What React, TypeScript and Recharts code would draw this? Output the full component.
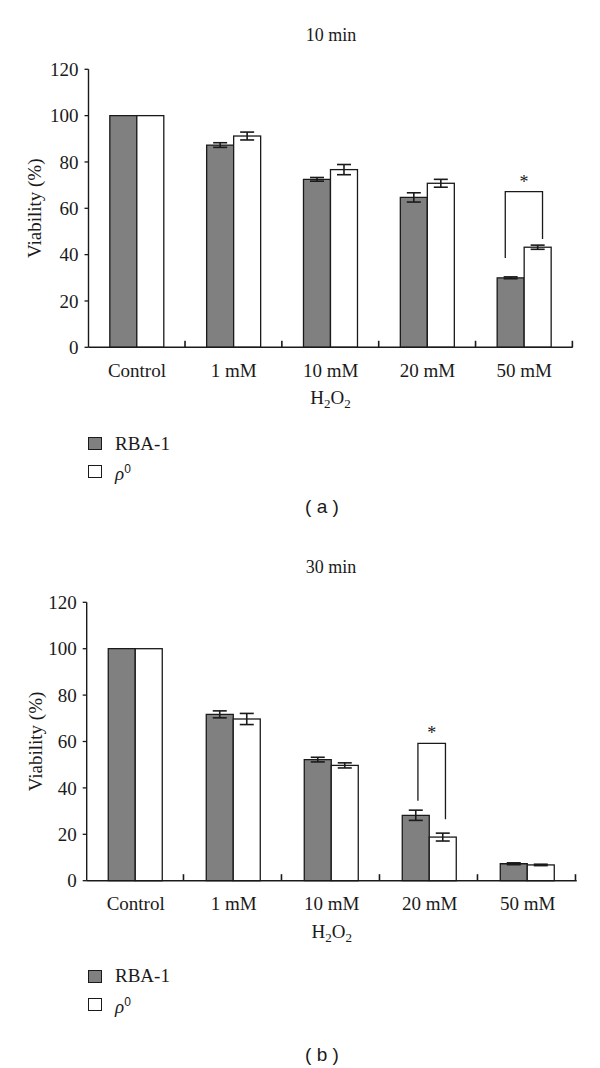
import { BarChart, Bar, XAxis, YAxis, ErrorBar } from "recharts";

const categories = ["Control", "1 mM", "10 mM", "20 mM", "50 mM"];
const yTicks = [0, 20, 40, 60, 80, 100, 120];

// 10 min exposure
const rba10 = [100, 87.3, 72.5, 64.7, 30.0];
const rba10Err = [0, 1.0, 0.8, 2.0, 0.4];
const rho10 = [100, 91.2, 76.7, 70.8, 43.2];
const rho10Err = [0, 1.7, 2.2, 1.7, 0.9];

// 30 min exposure
const rba30 = [100, 71.7, 52.2, 28.2, 7.3];
const rba30Err = [0, 1.5, 1.0, 2.2, 0.4];
const rho30 = [100, 69.7, 49.7, 18.8, 6.8];
const rho30Err = [0, 2.4, 1.1, 1.7, 0.3];

// significance brackets: leg ends and top in %, legs placed inside the two bars
const sig10 = { category: "50 mM", yLeft: 38.5, yRight: 46.7, top: 67.2, leftFrac: 0.3, rightFrac: 0.68 };
const sig30 = { category: "20 mM", yLeft: 34.5, yRight: 26.5, top: 59.2, leftFrac: 0.58, rightFrac: 0.6 };

const SERIF = "'Liberation Serif', 'Times New Roman', serif";
const SANS = "'Liberation Sans', Arial, sans-serif";
const INK = "#1a1a1a";
const GRAY = "#808080";
const FS = 19;
const CAT_GAP = 0.22; // barCategoryGap as a fraction of the band

const build = (rba: number[], rbaErr: number[], rho: number[], rhoErr: number[]) =>
  categories.map((name, i) => ({
    name,
    rba: rba[i],
    rbaErr: rbaErr[i],
    rho: rho[i],
    rhoErr: rhoErr[i],
  }));

const data10 = build(rba10, rba10Err, rho10, rho10Err);
const data30 = build(rba30, rba30Err, rho30, rho30Err);

function YLabel(props: any) {
  const vb = props.viewBox || { x: 0, y: 69, height: 278 };
  const cx = 35;
  const cy = vb.y + vb.height / 2;
  return (
    <text
      x={cx}
      y={cy}
      transform={`rotate(-90, ${cx}, ${cy})`}
      textAnchor="middle"
      dominantBaseline="central"
      fill={INK}
      fontFamily={SERIF}
      fontSize={FS}
    >
      Viability (%)
    </text>
  );
}

function H2O2Label(props: any) {
  const vb = props.viewBox || { x: 88, y: 347, width: 485 };
  const cx = vb.x + vb.width / 2;
  const y = vb.y + 57;
  return (
    <text x={cx} y={y} textAnchor="middle" fill={INK} fontFamily={SERIF} fontSize={FS}>
      H
      <tspan dy={4} fontSize={13}>2</tspan>
      <tspan dy={-4}>O</tspan>
      <tspan dy={4} fontSize={13}>2</tspan>
    </text>
  );
}

// white bar, the inward axis tick at the right edge of its band, and the significance bracket
function makeRhoShape(sig: typeof sig10) {
  return (props: any) => {
    const { x, y, width, height, value, payload, fill, stroke, strokeWidth } = props;
    const base = y + height;
    const band = (2 * width) / (1 - 2 * CAT_GAP);
    const tx = x + width + CAT_GAP * band;
    const parts = [
      <rect key="r" x={x} y={y} width={width} height={height} fill={fill} stroke={stroke} strokeWidth={strokeWidth} />,
      <rect key="t" x={tx - 0.8} y={base - 6.5} width={1.6} height={6.5} fill={INK} />,
    ];
    if (payload && payload.name === sig.category && value) {
      const ppu = height / value;
      const xl = x - width + sig.leftFrac * width;
      const xr = x + sig.rightFrac * width;
      const yt = base - sig.top * ppu;
      const yl = base - sig.yLeft * ppu;
      const yr = base - sig.yRight * ppu;
      parts.push(
        <path key="b" d={`M${xl},${yl} V${yt} H${xr} V${yr}`} fill="none" stroke={INK} strokeWidth={1.3} />,
        <text key="s" x={(xl + xr) / 2} y={yt - 4} textAnchor="middle" fill={INK} fontFamily={SERIF} fontSize={18}>
          *
        </text>
      );
    }
    return <g>{parts}</g>;
  };
}

interface PanelProps {
  top: number;
  data: any[];
  left: number;
  right: number;
  bottom: number;
  sig: typeof sig10;
  title: string;
  titleY: number;
  legendY: number;
  letter: string;
  letterY: number;
}

function Panel({ top, data, left, right, bottom, sig, title, titleY, legendY, letter, letterY }: PanelProps) {
  const H = 420;
  const axisH = 60;
  return (
    <div style={{ position: "absolute", left: 0, top, width: 600, height: 530 }}>
      <div
        style={{
          position: "absolute",
          left: 281,
          top: titleY - 9,
          width: 100,
          textAlign: "center",
          fontFamily: SERIF,
          fontSize: 18,
          lineHeight: "18px",
          color: INK,
        }}
      >
        {title}
      </div>
      <BarChart
        width={600}
        height={H}
        data={data}
        barCategoryGap={`${CAT_GAP * 100}%`}
        barGap={0}
        margin={{ top: 69.3, right: 600 - right, left: 0, bottom: H - bottom - axisH }}
        style={{ position: "absolute", left: 0, top: 0, overflow: "visible" }}
      >
        <XAxis
          dataKey="name"
          height={axisH}
          tickLine={false}
          tickSize={6}
          tickMargin={10}
          axisLine={{ stroke: INK, strokeWidth: 1.4 }}
          tick={{ fill: INK, fontSize: FS, fontFamily: SERIF }}
          label={{ content: (p: any) => <H2O2Label {...p} /> }}
        />
        <YAxis
          width={left}
          domain={[0, 120]}
          ticks={yTicks}
          tickSize={4}
          tickMargin={6}
          axisLine={{ stroke: INK, strokeWidth: 1.4 }}
          tickLine={{ stroke: INK, strokeWidth: 1.3 }}
          tick={{ fill: INK, fontSize: FS, fontFamily: SERIF }}
          label={{ content: (p: any) => <YLabel {...p} /> }}
        />
        <Bar dataKey="rba" fill={GRAY} stroke={INK} strokeWidth={1.3} isAnimationActive={false}>
          <ErrorBar dataKey="rbaErr" width={7} stroke={INK} strokeWidth={1.6} direction="y" isAnimationActive={false} />
        </Bar>
        <Bar
          dataKey="rho"
          fill="#ffffff"
          stroke={INK}
          strokeWidth={1.3}
          isAnimationActive={false}
          shape={makeRhoShape(sig)}
        >
          <ErrorBar dataKey="rhoErr" width={7} stroke={INK} strokeWidth={1.6} direction="y" isAnimationActive={false} />
        </Bar>
      </BarChart>
      {[
        { name: "RBA-1", fill: GRAY, dy: 0 },
        { name: "rho", fill: "#ffffff", dy: 28 },
      ].map((item) => (
        <div
          key={item.name}
          style={{
            position: "absolute",
            left: 88,
            top: legendY + item.dy - 9,
            height: 18,
            display: "flex",
            alignItems: "center",
            fontFamily: SERIF,
            fontSize: FS,
            color: INK,
          }}
        >
          <div
            style={{
              width: 12,
              height: 11,
              background: item.fill,
              border: `1px solid ${INK}`,
              marginRight: 13,
            }}
          />
          {item.name === "rho" ? (
            <span style={{ lineHeight: "18px" }}>
              <i>ρ</i>
              <sup style={{ fontFamily: SANS, fontSize: 12, verticalAlign: 7 }}>0</sup>
            </span>
          ) : (
            <span style={{ lineHeight: "18px" }}>{item.name}</span>
          )}
        </div>
      ))}
      <div
        style={{
          position: "absolute",
          left: 272,
          top: letterY - 11,
          width: 100,
          textAlign: "center",
          fontFamily: SANS,
          fontSize: 19,
          lineHeight: "22px",
          color: INK,
          whiteSpace: "pre",
        }}
      >
        {`( ${letter} )`}
      </div>
    </div>
  );
}

export default function App() {
  return (
    <div style={{ position: "absolute", left: 0, top: 0, width: 600, height: 1068, background: "#fff" }}>
      <Panel
        top={0}
        data={data10}
        left={88.5}
        right={572.7}
        bottom={347.3}
        sig={sig10}
        title="10 min"
        titleY={35}
        legendY={443.5}
        letter="a"
        letterY={507}
      />
      <Panel
        top={533}
        data={data30}
        left={86.7}
        right={576.7}
        bottom={347.7}
        sig={sig30}
        title="30 min"
        titleY={34}
        legendY={443}
        letter="b"
        letterY={522}
      />
    </div>
  );
}
